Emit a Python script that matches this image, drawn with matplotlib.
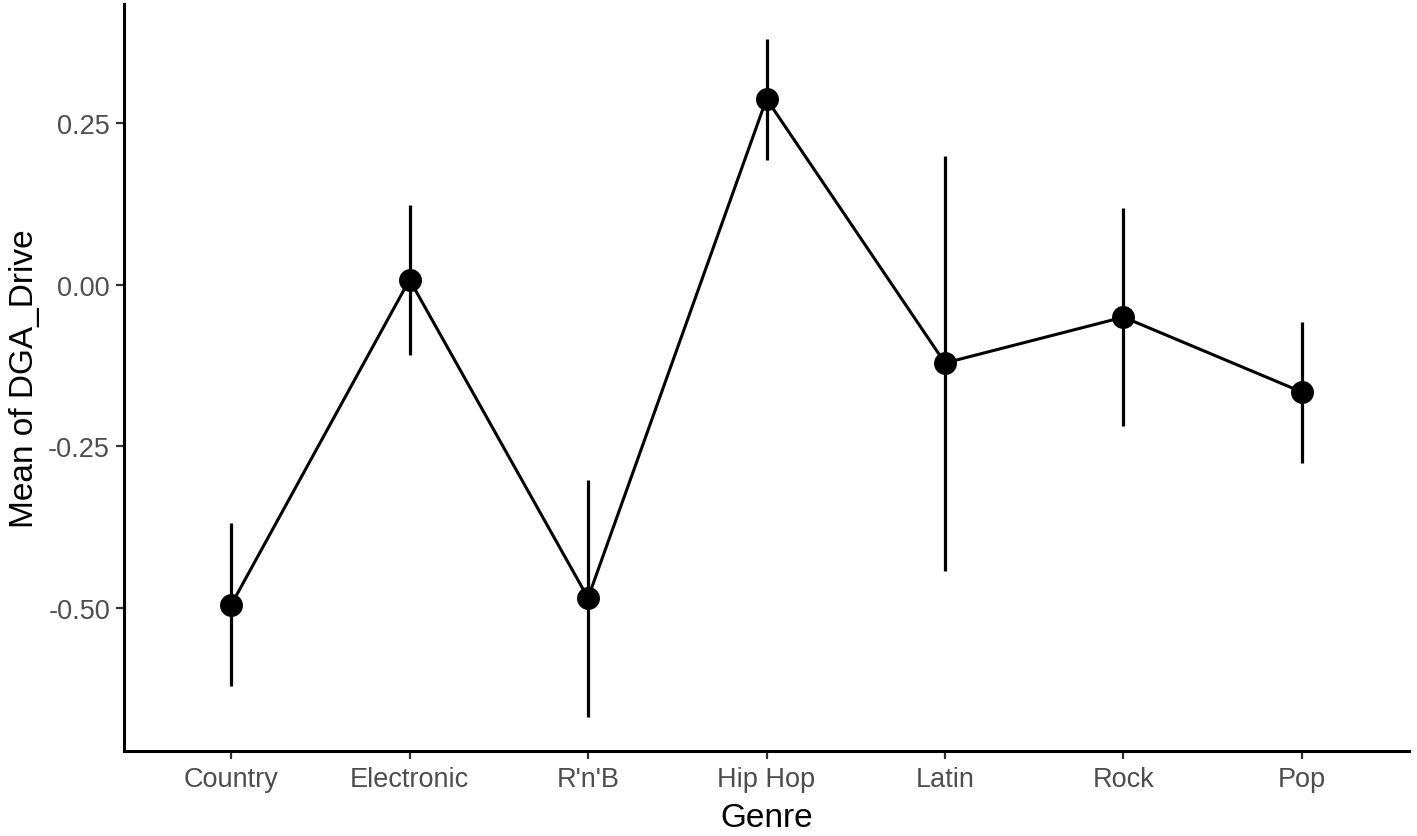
import matplotlib
matplotlib.use("Agg")
import matplotlib.pyplot as plt

genres = ["Country", "Electronic", "R'n'B", "Hip Hop", "Latin", "Rock", "Pop"]
means = [-0.496, 0.008, -0.485, 0.288, -0.121, -0.050, -0.166]
upper = [-0.369, 0.124, -0.302, 0.381, 0.200, 0.119, -0.057]
lower = [-0.621, -0.108, -0.669, 0.194, -0.443, -0.219, -0.276]
yticks = [-0.50, -0.25, 0.00, 0.25]
ytick_labels = ["-0.50", "-0.25", "0.00", "0.25"]

plt.rcParams['font.family'] = ['Liberation Sans', 'DejaVu Sans']

W, H = 1417, 837
fig = plt.figure(figsize=(W / 100, H / 100), dpi=100)
ax = fig.add_axes([124 / W, 1 - 752 / H, (1409 - 124) / W, (752 - 5) / H])

x = list(range(1, len(genres) + 1))
ax.vlines(x, lower, upper, color="black", linewidth=2.3, zorder=2)
ax.plot(x, means, color="black", linewidth=2.2, zorder=3)
ax.plot(x, means, "o", color="black", markersize=15.5, zorder=4)

ax.set_xlim(0.4, 7.6)
ax.set_ylim(-0.722, 0.435)
ax.set_xticks(x)
ax.set_xticklabels(genres)
ax.set_yticks(yticks)
ax.set_yticklabels(ytick_labels)

for s in ["top", "right"]:
    ax.spines[s].set_visible(False)
for s in ["left", "bottom"]:
    ax.spines[s].set_linewidth(2.2)
    ax.spines[s].set_color("black")

ax.tick_params(axis="both", length=6, width=1.6, color="#333333",
               labelsize=19.5, labelcolor="#4D4D4D", pad=4)
ax.tick_params(axis="x", pad=5)

ax.set_xlabel("Genre", fontsize=24, color="black", labelpad=7)
ax.set_ylabel("Mean of DGA_Drive", fontsize=24, color="black", labelpad=6)

fig.savefig("out.png", dpi=100)
